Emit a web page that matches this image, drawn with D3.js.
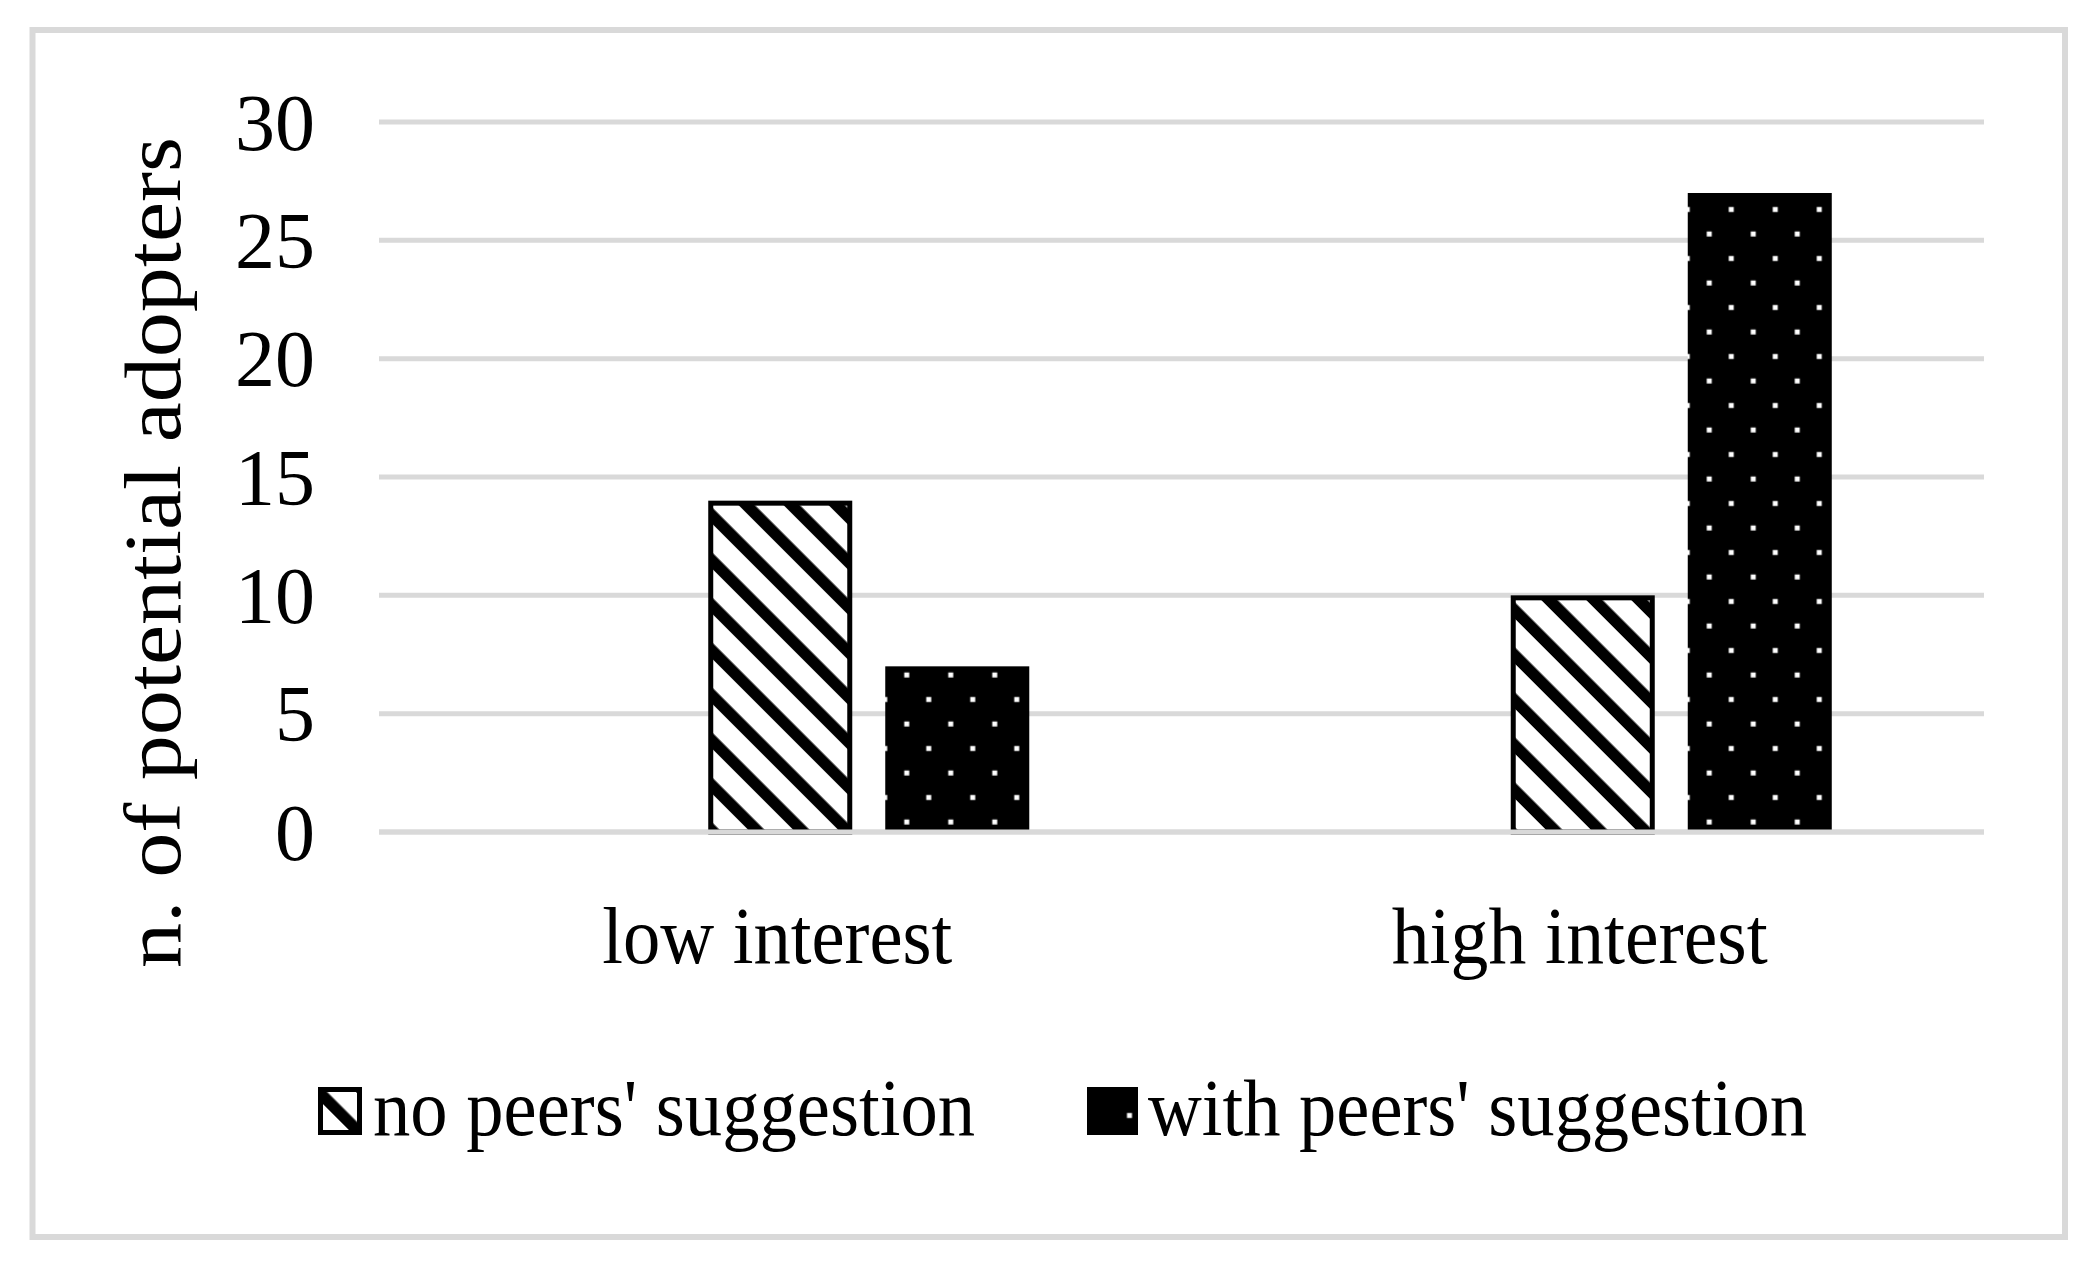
<!DOCTYPE html>
<html>
<head>
<meta charset="utf-8">
<script src="https://cdnjs.cloudflare.com/ajax/libs/d3/7.8.5/d3.min.js"></script>
<style>
  html, body { margin: 0; padding: 0; background: #ffffff; }
  svg { display: block; }
  text { font-family: "Liberation Serif", "DejaVu Serif", serif; fill: #000; }
</style>
</head>
<body>
<div id="chart"></div>
<script>
// ---------- data ----------
const categories = ["low interest", "high interest"];
// the source chart has an empty first series slot (invisible), then the two plotted series
const seriesSlots = ["(blank)", "no peers' suggestion", "with peers' suggestion"];
const blankValues = [0, 0];
const noPeersValues = [14, 10];
const withPeersValues = [7, 27];
const yTicks = [0, 5, 10, 15, 20, 25, 30];
const yTitle = "n. of potential adopters";
const legendItems = ["no peers' suggestion", "with peers' suggestion"];

// ---------- layout ----------
const W = 2099, H = 1270;
const plotLeft = 379, plotRight = 1984, plotTop = 122, plotBottom = 832;
const grid = "#d9d9d9";
const fontSize = 80;

const svg = d3.select("#chart").append("svg")
  .attr("width", W).attr("height", H);
const defs = svg.append("defs");

// outer frame
svg.append("rect")
  .attr("x", 32.5).attr("y", 30).attr("width", 2065 - 32.5).attr("height", 1237 - 30)
  .attr("fill", "#fff").attr("stroke", grid).attr("stroke-width", 6);

const y = d3.scaleLinear().domain([0, 30]).range([plotBottom, plotTop]);
const x0 = d3.scaleBand().domain(categories).range([plotLeft, plotRight]);
const x1 = d3.scaleBand().domain(seriesSlots).range([0, x0.bandwidth()])
  .paddingInner(33 / 177).paddingOuter(0.86);

// gridlines
svg.append("g").selectAll("line").data(yTicks).join("line")
  .attr("x1", plotLeft).attr("x2", plotRight)
  .attr("y1", d => y(d)).attr("y2", d => y(d))
  .attr("stroke", grid).attr("stroke-width", 5);

// y tick labels
const yAxis = d3.axisLeft(y).tickValues(yTicks).tickSize(0).tickPadding(0).tickFormat(d3.format("d"));
const yg = svg.append("g").attr("transform", `translate(315,0)`).call(yAxis);
yg.select(".domain").remove();
yg.selectAll("text")
  .attr("font-size", fontSize)
  .attr("font-family", "Liberation Serif")
  .attr("dy", "0.34em")
  .attr("fill", "#000");

// y title
svg.append("text")
  .attr("transform", `translate(180,${(137 + 968) / 2}) rotate(-90)`)
  .attr("text-anchor", "middle")
  .attr("font-size", fontSize)
  .attr("textLength", 831)
  .attr("lengthAdjust", "spacingAndGlyphs")
  .text(yTitle);

// ---------- patterns ----------
const hatchW = 11.5, hatchPeriod = 45 / Math.SQRT2;
function makeHatch(id, cx, cy) {
  const p = defs.append("pattern").attr("id", id)
    .attr("patternUnits", "userSpaceOnUse")
    .attr("x", -hatchW / 2).attr("y", 0)
    .attr("width", hatchPeriod).attr("height", hatchPeriod)
    .attr("patternTransform", `translate(${cx},${cy}) rotate(-45)`);
  p.append("rect").attr("width", hatchPeriod).attr("height", hatchPeriod).attr("fill", "#fff");
  p.append("rect").attr("x", 0).attr("width", hatchW).attr("height", hatchPeriod).attr("fill", "#000");
}
function makeDots(id, ax, ay, tw, th) {
  const p = defs.append("pattern").attr("id", id)
    .attr("patternUnits", "userSpaceOnUse")
    .attr("x", ax - 11).attr("y", ay - 12.25)
    .attr("width", tw).attr("height", th);
  p.append("rect").attr("width", tw).attr("height", th).attr("fill", "#000");
  p.append("rect").attr("x", 8.5).attr("y", 9.75).attr("width", 5).attr("height", 5).attr("fill", "#fff");
  if (tw === 44) {
    p.append("rect").attr("x", 30.5).attr("y", 34.25).attr("width", 5).attr("height", 5).attr("fill", "#fff");
  }
}

// ---------- bars ----------
const bars = [];
categories.forEach((c, i) => {
  bars.push({ cat: c, slot: seriesSlots[0], v: blankValues[i], kind: "blank", i });
  bars.push({ cat: c, slot: seriesSlots[1], v: noPeersValues[i], kind: "hatch", i });
  bars.push({ cat: c, slot: seriesSlots[2], v: withPeersValues[i], kind: "dots", i });
});

const barG = svg.append("g");
bars.filter(d => d.kind !== "blank").forEach(d => {
  const bx = x0(d.cat) + x1(d.slot);
  const bw = x1.bandwidth();
  const top = y(d.v), bottom = y(0);
  if (d.kind === "hatch") {
    const id = "hatch-" + d.i;
    makeHatch(id, bx + 34, top);
    barG.append("rect")
      .attr("x", bx + 2.5).attr("y", top + 2.5)
      .attr("width", bw - 5).attr("height", bottom - top - 2.5)
      .attr("fill", `url(#${id})`)
      .attr("stroke", "#000").attr("stroke-width", 5);
  } else {
    const id = "dots-" + d.i;
    makeDots(id, bx + 21.5, bottom - 10, 44, 49);
    barG.append("rect")
      .attr("x", bx).attr("y", top)
      .attr("width", bw).attr("height", bottom - top)
      .attr("fill", `url(#${id})`);
  }
});

// baseline on top
svg.append("line")
  .attr("x1", plotLeft).attr("x2", plotRight)
  .attr("y1", y(0)).attr("y2", y(0))
  .attr("stroke", grid).attr("stroke-width", 5);

// category labels
const catWidths = [350, 376];
svg.append("g").selectAll("text").data(categories).join("text")
  .attr("x", d => x0(d) + x0.bandwidth() / 2 - 3)
  .attr("y", 963)
  .attr("text-anchor", "middle")
  .attr("font-size", fontSize)
  .attr("textLength", (d, i) => catWidths[i])
  .attr("lengthAdjust", "spacingAndGlyphs")
  .text(d => d);

// ---------- legend ----------
const legendX = [318, 1087];
const swatchW = [44, 51];
const legendTextX = [373, 1148];
const legendTextW = [602, 659];
makeHatch("leg-hatch", 318 + 22, 1087 + 26);
makeDots("leg-dots", 1129.5, 1115.5, 200, 200);
legendItems.forEach((name, i) => {
  const g = svg.append("g");
  if (i === 0) {
    g.append("rect")
      .attr("x", legendX[i] + 2.5).attr("y", 1087 + 2.5)
      .attr("width", swatchW[i] - 5).attr("height", 48 - 5)
      .attr("fill", "url(#leg-hatch)").attr("stroke", "#000").attr("stroke-width", 5);
  } else {
    g.append("rect")
      .attr("x", legendX[i]).attr("y", 1087)
      .attr("width", swatchW[i]).attr("height", 48)
      .attr("fill", "url(#leg-dots)");
  }
  g.append("text")
    .attr("x", legendTextX[i]).attr("y", 1135)
    .attr("font-size", fontSize)
    .attr("textLength", legendTextW[i])
    .attr("lengthAdjust", "spacingAndGlyphs")
    .text(name);
});
</script>
</body>
</html>
